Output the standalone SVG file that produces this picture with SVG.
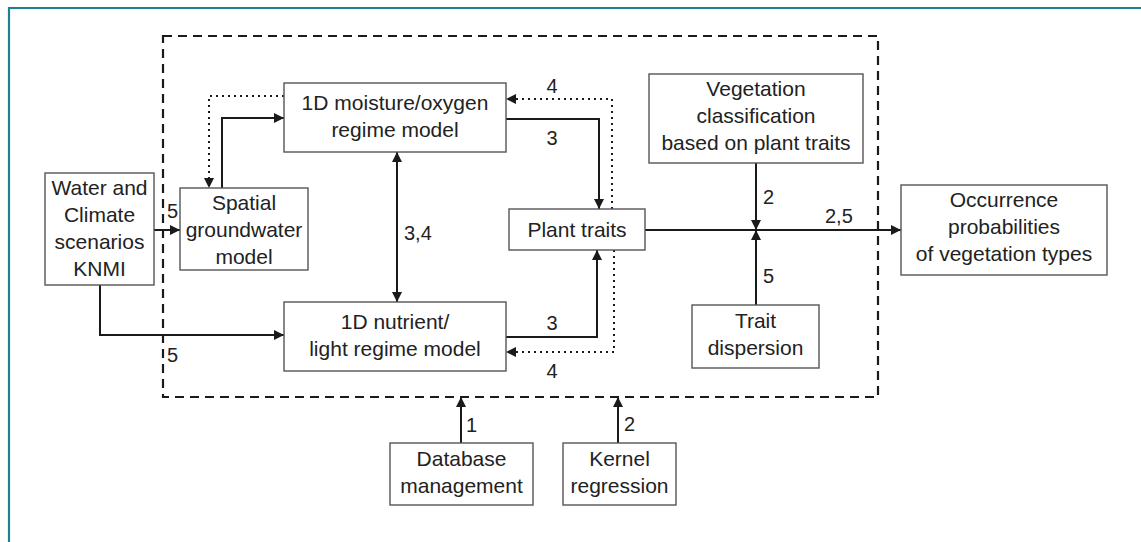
<svg xmlns="http://www.w3.org/2000/svg" width="1141" height="542" viewBox="0 0 1141 542">
<style>
text{font-family:"Liberation Sans",Arial,sans-serif;fill:#222;}
.t{font-size:21px;text-anchor:middle;}
.l{font-size:20px;}
.box{fill:#fff;stroke:#555;stroke-width:1.4;}
.c{fill:none;stroke:#1a1a1a;stroke-width:2;}
.d{fill:none;stroke:#1a1a1a;stroke-width:2;stroke-dasharray:2 4;}
.frame{fill:none;stroke:#1f8090;stroke-width:2.2;}
.dash{fill:none;stroke:#1a1a1a;stroke-width:2.2;stroke-dasharray:9 6;}
</style>
<defs>
<marker id="ah" viewBox="0 0 10 10" refX="10" refY="5" markerWidth="11" markerHeight="10" orient="auto-start-reverse" markerUnits="userSpaceOnUse">
<path d="M0,0 L10,5 L0,10 z" fill="#1a1a1a"/>
</marker>
</defs>
<path class="frame" d="M9,542 V8 H1141"/>
<rect class="dash" x="163" y="36" width="715" height="361"/>

<g id="connectors">
<path class="c" d="M154,230 H180" marker-end="url(#ah)"/>
<path class="c" d="M100,285 V335 H284" marker-end="url(#ah)"/>
<path class="c" d="M222,188 V118 H284" marker-end="url(#ah)"/>
<path class="d" d="M284,96 H209 V188" marker-end="url(#ah)"/>
<path class="c" d="M397,152 V302" marker-start="url(#ah)" marker-end="url(#ah)"/>
<path class="c" d="M506,119 H599 V209" marker-end="url(#ah)"/>
<path class="d" d="M612,209 V99 H506" marker-end="url(#ah)"/>
<path class="c" d="M506,337 H597 V250" marker-end="url(#ah)"/>
<path class="d" d="M614,250 V352 H506" marker-end="url(#ah)"/>
<path class="c" d="M645,230 H901" marker-end="url(#ah)"/>
<path class="c" d="M756,163 V230" marker-end="url(#ah)"/>
<path class="c" d="M756,305 V230" marker-end="url(#ah)"/>
<path class="c" d="M461,443 V397" marker-end="url(#ah)"/>
<path class="c" d="M618,443 V397" marker-end="url(#ah)"/>
<text class="l" x="167" y="218">5</text>
<text class="l" x="167" y="362">5</text>
<text class="l" x="404" y="240">3,4</text>
<text class="l" x="552" y="145" text-anchor="middle">3</text>
<text class="l" x="552" y="93" text-anchor="middle">4</text>
<text class="l" x="552" y="330" text-anchor="middle">3</text>
<text class="l" x="552" y="378" text-anchor="middle">4</text>
<text class="l" x="763" y="204">2</text>
<text class="l" x="825" y="223">2,5</text>
<text class="l" x="763" y="283">5</text>
<text class="l" x="466" y="432">1</text>
<text class="l" x="624" y="431">2</text>
</g>

<g id="water">
<rect class="box" x="45" y="173" width="109" height="112"/>
<text class="t" x="99.5" y="195">Water and</text>
<text class="t" x="99.5" y="222">Climate</text>
<text class="t" x="99.5" y="249">scenarios</text>
<text class="t" x="99.5" y="276">KNMI</text>
</g>
<g id="spatial">
<rect class="box" x="180" y="188" width="128" height="82"/>
<text class="t" x="244" y="210">Spatial</text>
<text class="t" x="244" y="237">groundwater</text>
<text class="t" x="244" y="264">model</text>
</g>
<g id="moisture">
<rect class="box" x="284" y="83" width="222" height="69"/>
<text class="t" x="395" y="110">1D moisture/oxygen</text>
<text class="t" x="395" y="137">regime model</text>
</g>
<g id="nutrient">
<rect class="box" x="284" y="302" width="222" height="69"/>
<text class="t" x="395" y="329">1D nutrient/</text>
<text class="t" x="395" y="356">light regime model</text>
</g>
<g id="plant">
<rect class="box" x="509" y="209" width="136" height="41"/>
<text class="t" x="577" y="237">Plant traits</text>
</g>
<g id="vegclass">
<rect class="box" x="649" y="74" width="214" height="89"/>
<text class="t" x="756" y="96">Vegetation</text>
<text class="t" x="756" y="123">classification</text>
<text class="t" x="756" y="150">based on plant traits</text>
</g>
<g id="occurrence">
<rect class="box" x="901" y="185" width="206" height="90"/>
<text class="t" x="1004" y="207">Occurrence</text>
<text class="t" x="1004" y="234">probabilities</text>
<text class="t" x="1004" y="261">of vegetation types</text>
</g>
<g id="dispersion">
<rect class="box" x="692" y="305" width="127" height="63"/>
<text class="t" x="755.5" y="328">Trait</text>
<text class="t" x="755.5" y="355">dispersion</text>
</g>
<g id="database">
<rect class="box" x="390" y="443" width="143" height="62"/>
<text class="t" x="461.5" y="466">Database</text>
<text class="t" x="461.5" y="493">management</text>
</g>
<g id="kernel">
<rect class="box" x="563" y="443" width="113" height="62"/>
<text class="t" x="619.5" y="466">Kernel</text>
<text class="t" x="619.5" y="493">regression</text>
</g>
</svg>
